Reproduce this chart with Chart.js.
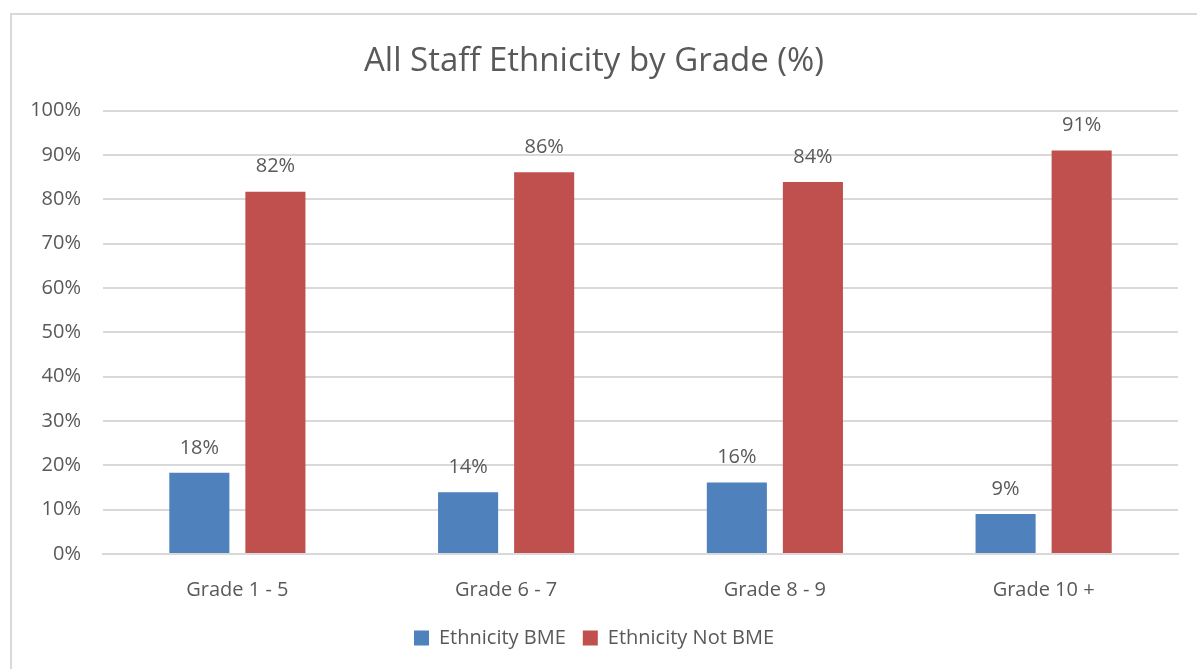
<!DOCTYPE html>
<html>
<head>
<meta charset="utf-8">
<script src="https://cdn.jsdelivr.net/npm/chart.js@4"></script>
<style>
  html, body { margin: 0; padding: 0; background: #fff; }
  .frame { position: absolute; left: 10px; top: 13px; width: 1190px; height: 680px; border: 2px solid #d9d9d9; box-sizing: border-box; }
  #wrap { position: absolute; left: 0; top: 0; width: 1197px; height: 669px; }
</style>
</head>
<body>
<div class="frame"></div>
<div id="wrap"><canvas id="chart"></canvas></div>
<script>
// chart data
const grades = ['Grade 1 - 5', 'Grade 6 - 7', 'Grade 8 - 9', 'Grade 10 +'];
const bme = [18.3, 13.9, 16.1, 9.0];
const notBme = [81.7, 86.1, 83.9, 91.0];
const yTicks = [0, 10, 20, 30, 40, 50, 60, 70, 80, 90, 100];

const textColor = '#595959';
const fontFamily = "'Open Sans', 'Noto Sans', sans-serif";

// simple value labels above the bars
const barLabels = {
  id: 'barLabels',
  afterDatasetsDraw(chart) {
    const ctx = chart.ctx;
    ctx.save();
    ctx.font = '20px ' + fontFamily;
    ctx.fillStyle = textColor;
    ctx.textAlign = 'center';
    ctx.textBaseline = 'middle';
    chart.data.datasets.forEach((ds, i) => {
      chart.getDatasetMeta(i).data.forEach((bar, j) => {
        ctx.fillText(Math.round(ds.data[j]) + '%', bar.x, bar.y - 25);
      });
    });
    ctx.restore();
  }
};

new Chart(document.getElementById('chart'), {
  type: 'bar',
  data: {
    labels: grades,
    datasets: [
      { label: 'Ethnicity BME', data: bme, backgroundColor: '#4f81bd' },
      { label: 'Ethnicity Not BME', data: notBme, backgroundColor: '#c0504d' }
    ]
  },
  options: {
    responsive: true,
    maintainAspectRatio: false,
    animation: false,
    categoryPercentage: 0.566,
    barPercentage: 0.79,
    layout: { padding: { left: 10, right: 19, top: 22, bottom: 11 } },
    plugins: {
      title: {
        display: true,
        text: 'All Staff Ethnicity by Grade (%)',
        color: textColor,
        font: { family: fontFamily, size: 33, weight: 'normal' },
        padding: { top: 20, bottom: 29 }
      },
      legend: {
        position: 'bottom',
        labels: {
          color: textColor,
          font: { family: fontFamily, size: 20 },
          boxWidth: 15,
          boxHeight: 15,
          padding: 17
        }
      },
      tooltip: { enabled: false }
    },
    scales: {
      x: {
        grid: { display: false },
        border: { color: '#d9d9d9', width: 2 },
        afterFit: (s) => { s.height = s.height - 7; },
        ticks: { color: textColor, font: { family: fontFamily, size: 20 }, padding: 16 }
      },
      y: {
        min: 0,
        max: 100,
        afterBuildTicks: (s) => { s.ticks = yTicks.map(v => ({ value: v })); },
        afterFit: (s) => { s.width = 93; },
        grid: { color: '#d9d9d9', lineWidth: 2, drawTicks: false },
        border: { display: false },
        ticks: { color: textColor, font: { family: fontFamily, size: 20 }, padding: 22, callback: v => v + '%' }
      }
    }
  },
  plugins: [barLabels]
});
</script>
</body>
</html>
